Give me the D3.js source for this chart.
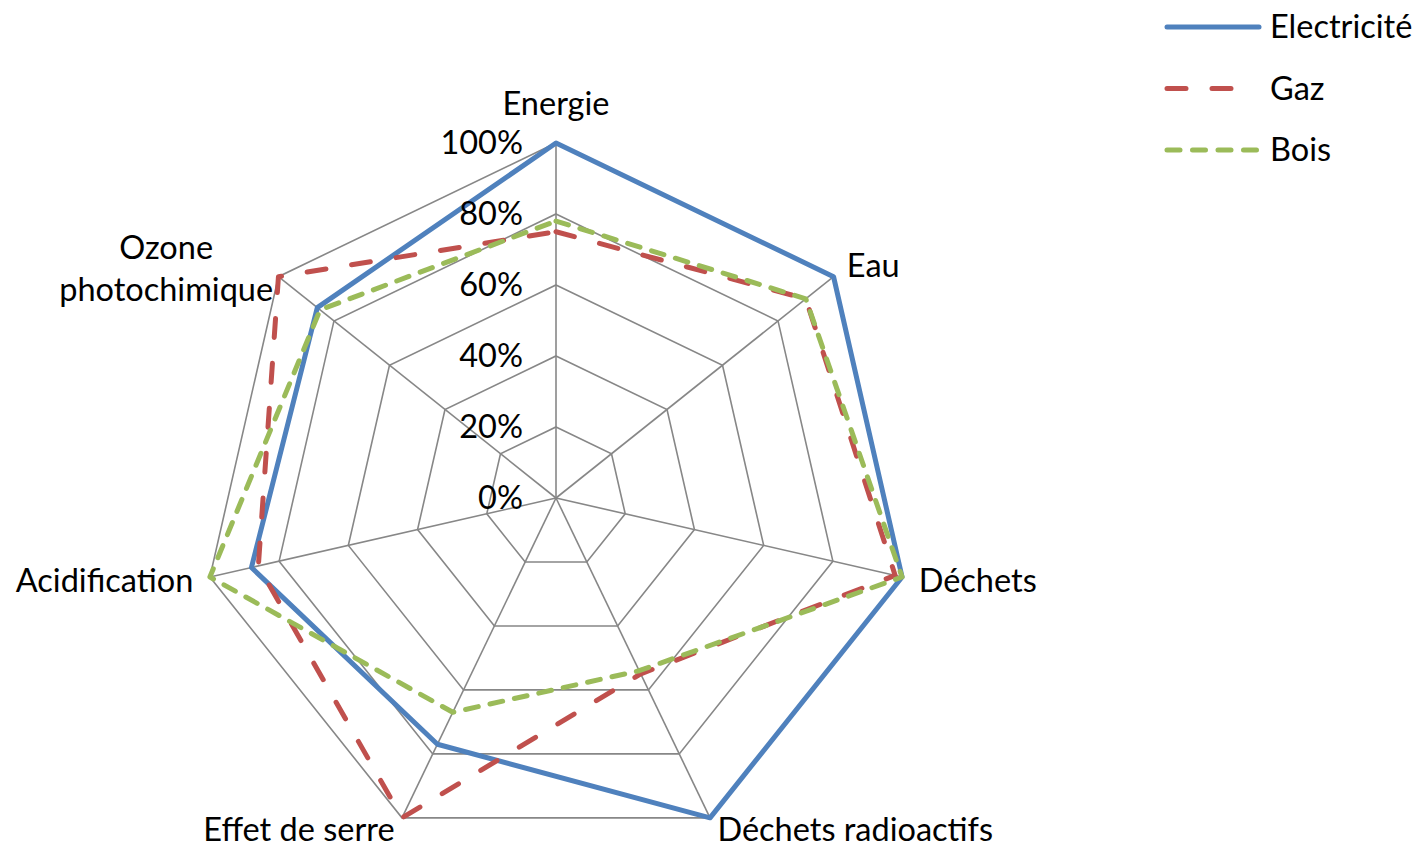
<!DOCTYPE html>
<html>
<head>
<meta charset="utf-8">
<script src="https://cdn.jsdelivr.net/npm/d3@7"></script>
<style>
  html, body { margin: 0; padding: 0; background: #fff; }
  svg { display: block; }
  text { font-family: Lato, "Open Sans", sans-serif; fill: #000; }
</style>
</head>
<body>
<svg id="chart" width="1421" height="849"></svg>
<script>
// Environmental impact categories (radar axes, clockwise from the top)
const categories = ["Energie", "Eau", "Déchets", "Déchets radioactifs", "Effet de serre", "Acidification", "Ozone photochimique"];

// Relative impact per energy source, in percent
const electricite = [100, 100, 100, 100, 77, 88, 86];
const gaz         = [75, 90, 98, 55, 100, 86, 100];
const bois        = [78, 90, 100, 54, 67, 100, 85];

const seriesNames = ["Electricité", "Gaz", "Bois"];
const tickValues  = [0, 20, 40, 60, 80, 100];

const series = [
  { name: seriesNames[0], values: electricite, color: "#4F81BD", dash: null,    legendEnd: 1259 },
  { name: seriesNames[1], values: gaz,         color: "#C0504D", dash: "19,26", legendEnd: 1233 },
  { name: seriesNames[2], values: bois,        color: "#9BBB59", dash: "13,12", legendEnd: 1259 }
];

const svg = d3.select("#chart");
const cx = 556, cy = 498, R = 355;
const fontSize = 32.5;

const angle = d3.scaleLinear().domain([0, categories.length]).range([0, 2 * Math.PI]);
const r = d3.scaleLinear().domain([0, 100]).range([0, R]);

const pt = (i, v) => [cx + r(v) * Math.sin(angle(i)), cy - r(v) * Math.cos(angle(i))];

// Concentric heptagon grid
const grid = svg.append("g");
tickValues.filter(t => t > 0).forEach(t => {
  grid.append("path")
    .attr("d", d3.line()(categories.map((c, i) => pt(i, t))) + "Z")
    .attr("fill", "none").attr("stroke", "#878787").attr("stroke-width", 1.6);
});
categories.forEach((c, i) => {
  const [x, y] = pt(i, 100);
  grid.append("line").attr("x1", cx).attr("y1", cy).attr("x2", x).attr("y2", y)
    .attr("stroke", "#878787").attr("stroke-width", 1.6);
});

// Series polygons
const line = d3.line().curve(d3.curveLinearClosed);
series.forEach(s => {
  svg.append("path")
    .attr("d", line(s.values.map((v, i) => pt(i, v))))
    .attr("fill", "none")
    .attr("stroke", s.color)
    .attr("stroke-width", 5)
    .attr("stroke-linejoin", "round")
    .attr("stroke-linecap", "round")
    .attr("stroke-dasharray", s.dash);
});

// Radial tick labels
svg.append("g").selectAll("text").data(tickValues).join("text")
  .attr("x", cx - 33)
  .attr("y", d => cy - r(d))
  .attr("dy", "0.35em")
  .attr("text-anchor", "end")
  .style("font-size", fontSize + "px")
  .text(d => d + "%");

// Category labels around the outer ring
const labels = svg.append("g");
categories.forEach((c, i) => {
  const a = angle(i);
  const s = Math.sin(a), co = Math.cos(a);
  const pad = 17;
  let x = cx + (R + pad) * s;
  let y = cy - (R + pad) * co;
  const anchor = Math.abs(s) < 0.1 ? "middle" : (s > 0 ? "start" : "end");
  const words = c === "Ozone photochimique" ? ["Ozone", "photochimique"] : [c];
  if (co > 0.9) y -= 22;        // top label sits above the axis end
  if (co < -0.8) y -= 4;        // bottom labels kept inside the frame
  const t = labels.append("text")
    .style("font-size", fontSize + "px")
    .attr("text-anchor", words.length > 1 ? "middle" : anchor);
  if (words.length > 1) {
    // two centred lines, right edge next to the axis end
    const probe = labels.append("text").style("font-size", fontSize + "px").text(words[1]);
    const w = probe.node().getComputedTextLength();
    probe.remove();
    const xm = x + 8 - w / 2;
    words.forEach((wd, k) => {
      t.append("tspan").attr("x", xm).attr("y", y - 18 + k * 42).attr("dy", "0.35em").text(wd);
    });
  } else {
    t.attr("x", x).attr("y", y).attr("dy", "0.35em").text(c);
  }
});

// Legend
const legend = svg.append("g");
series.forEach((s, k) => {
  const y = 27 + k * 61.5;
  legend.append("line")
    .attr("x1", 1167).attr("x2", s.legendEnd).attr("y1", y).attr("y2", y)
    .attr("stroke", s.color).attr("stroke-width", 5)
    .attr("stroke-linecap", "round")
    .attr("stroke-dasharray", s.dash ? (s.name === "Gaz" ? "19,26" : "13,12.5") : null);
  legend.append("text")
    .attr("x", 1270).attr("y", y).attr("dy", "0.35em")
    .style("font-size", fontSize + "px")
    .text(s.name);
});
</script>
</body>
</html>
